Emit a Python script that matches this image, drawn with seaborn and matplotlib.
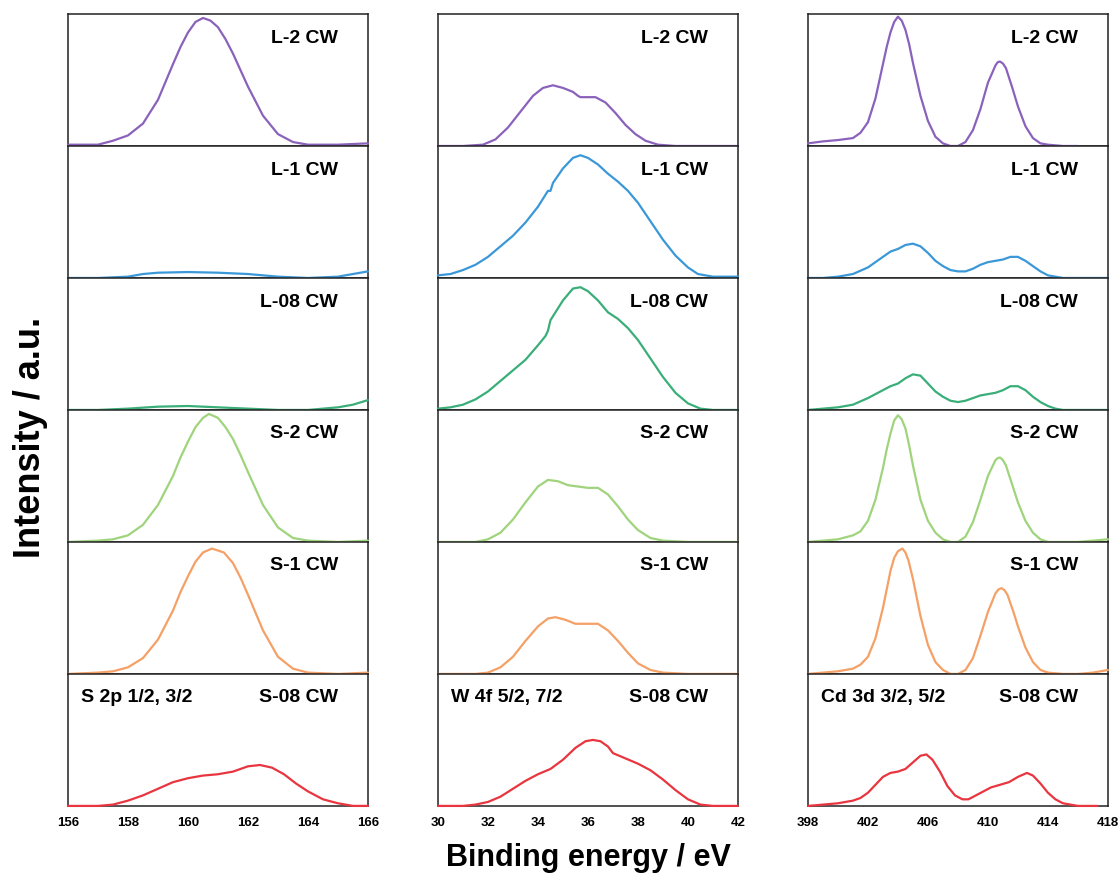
import matplotlib.pyplot as plt
import seaborn as sb

samples = ["L-2 CW", "L-1 CW", "L-08 CW", "S-2 CW", "S-1 CW", "S-08 CW"]
line_colors = ["#8b62bb", "#3b98d8", "#3aae78", "#9fd47c", "#f5a066", "#e8353f"]
regions = ["S 2p 1/2, 3/2", "W 4f 5/2, 7/2", "Cd 3d 3/2, 5/2"]
x_limits = [(156, 166), (30, 42), (398, 418)]
x_ticks = [[156, 158, 160, 162, 164, 166],
           [30, 32, 34, 36, 38, 40, 42],
           [398, 402, 406, 410, 414, 418]]

# S 2p
s_l2_x = [156, 157, 157.5, 158, 158.5, 159, 159.5, 159.75, 160, 160.25, 160.5, 160.75, 161, 161.25, 161.5, 162, 162.5, 163, 163.5, 164, 165, 166]
s_l2_y = [0.01, 0.01, 0.04, 0.08, 0.17, 0.35, 0.62, 0.75, 0.86, 0.94, 0.97, 0.95, 0.9, 0.81, 0.7, 0.45, 0.23, 0.09, 0.03, 0.01, 0.01, 0.02]
s_l1_x = [156, 157, 158, 158.5, 159, 160, 161, 162, 163, 164, 165, 165.5, 166]
s_l1_y = [0.0, 0.0, 0.01, 0.03, 0.04, 0.045, 0.04, 0.03, 0.01, 0.0, 0.01, 0.03, 0.05]
s_l08_x = [156, 157, 158, 159, 160, 161, 162, 163, 164, 165, 165.5, 166]
s_l08_y = [0.0, 0.0, 0.01, 0.025, 0.03, 0.02, 0.01, 0.0, 0.0, 0.02, 0.04, 0.075]
s_s2_x = [156, 157, 157.5, 158, 158.5, 159, 159.5, 159.75, 160, 160.25, 160.5, 160.7, 161, 161.25, 161.5, 161.75, 162, 162.5, 163, 163.5, 164, 165, 166]
s_s2_y = [0.0, 0.01, 0.02, 0.05, 0.13, 0.28, 0.5, 0.64, 0.76, 0.87, 0.94, 0.97, 0.94, 0.87, 0.78, 0.66, 0.53, 0.28, 0.11, 0.03, 0.01, 0.0, 0.01]
s_s1_x = [156, 157, 157.5, 158, 158.5, 159, 159.5, 159.75, 160, 160.25, 160.5, 160.8, 161.2, 161.5, 161.75, 162, 162.5, 163, 163.5, 164, 165, 166]
s_s1_y = [0.0, 0.01, 0.02, 0.05, 0.12, 0.26, 0.48, 0.62, 0.74, 0.85, 0.92, 0.95, 0.92, 0.84, 0.73, 0.6, 0.33, 0.13, 0.04, 0.01, 0.0, 0.01]
s_s08_x = [156, 157, 157.5, 158, 158.5, 159, 159.5, 160, 160.5, 161, 161.5, 162, 162.4, 162.8, 163.2, 163.6, 164, 164.5, 165, 165.5, 166]
s_s08_y = [0.0, 0.0, 0.01, 0.04, 0.08, 0.13, 0.18, 0.21, 0.23, 0.24, 0.26, 0.3, 0.31, 0.29, 0.24, 0.17, 0.11, 0.05, 0.02, 0.0, 0.0]

# W 4f
w_l2_x = [30, 31, 31.8, 32.3, 32.8, 33.3, 33.8, 34.2, 34.6, 35.0, 35.4, 35.6, 35.7, 36.0, 36.3, 36.7, 37.1, 37.5, 37.9, 38.3, 38.8, 39.5, 42]
w_l2_y = [0.0, 0.0, 0.01, 0.05, 0.14, 0.26, 0.38, 0.44, 0.46, 0.44, 0.41, 0.38, 0.37, 0.37, 0.37, 0.33, 0.25, 0.16, 0.09, 0.04, 0.01, 0.0, 0.0]
w_l1_x = [30, 30.5, 31, 31.5, 32, 32.5, 33, 33.5, 34, 34.4, 34.5, 34.6, 35, 35.4, 35.7, 36, 36.4, 36.8, 37.2, 37.6, 38, 38.5, 39, 39.5, 40, 40.4, 41, 42]
w_l1_y = [0.02, 0.03, 0.06, 0.1, 0.16, 0.24, 0.32, 0.42, 0.54, 0.66, 0.66, 0.72, 0.83, 0.91, 0.93, 0.91, 0.86, 0.79, 0.73, 0.66, 0.57, 0.43, 0.29, 0.17, 0.08, 0.03, 0.01, 0.01]
w_l08_x = [30, 30.5, 31, 31.5, 32, 32.5, 33, 33.5, 34, 34.3, 34.4, 34.5, 35, 35.4, 35.7, 36, 36.4, 36.8, 37.2, 37.6, 38, 38.5, 39, 39.5, 40, 40.5, 41, 42]
w_l08_y = [0.01, 0.02, 0.04, 0.08, 0.14, 0.22, 0.3, 0.38, 0.49, 0.56, 0.6, 0.68, 0.83, 0.92, 0.93, 0.9, 0.83, 0.74, 0.69, 0.62, 0.53, 0.39, 0.25, 0.13, 0.05, 0.01, 0.0, 0.0]
w_s2_x = [30, 31.5, 32, 32.5, 33, 33.5, 34, 34.4, 34.8, 35.2, 35.6, 36, 36.4, 36.8, 37.2, 37.6, 38, 38.5, 39, 40, 42]
w_s2_y = [0.0, 0.0, 0.02, 0.07, 0.17, 0.3, 0.42, 0.47, 0.46, 0.43, 0.42, 0.41, 0.41, 0.36, 0.27, 0.17, 0.09, 0.03, 0.01, 0.0, 0.0]
w_s1_x = [30, 31.5, 32, 32.5, 33, 33.5, 34, 34.4, 34.7, 35.1, 35.5, 36, 36.4, 36.8, 37.2, 37.6, 38, 38.5, 39, 40, 42]
w_s1_y = [0.0, 0.0, 0.01, 0.05, 0.13, 0.25, 0.36, 0.42, 0.43, 0.41, 0.38, 0.38, 0.38, 0.33, 0.25, 0.16, 0.08, 0.03, 0.01, 0.0, 0.0]
w_s08_x = [30, 31, 31.5, 32, 32.5, 33, 33.5, 34, 34.5, 35, 35.5, 35.9, 36.2, 36.5, 36.8, 37, 37.5, 38, 38.5, 39, 39.5, 40, 40.5, 41, 42]
w_s08_y = [0.0, 0.0, 0.01, 0.03, 0.07, 0.13, 0.19, 0.24, 0.28, 0.35, 0.44, 0.49, 0.5, 0.49, 0.45, 0.4, 0.36, 0.32, 0.27, 0.2, 0.12, 0.05, 0.01, 0.0, 0.0]

# Cd 3d
cd_l2_x = [398, 399, 400, 401, 401.5, 402, 402.5, 403, 403.25, 403.5, 403.75, 404, 404.25, 404.5, 404.75, 405, 405.5, 406, 406.5, 407, 407.5, 408, 408.5, 409, 409.5, 410, 410.5, 410.65, 410.8, 411.0, 411.2, 411.6, 412, 412.5, 413, 413.5, 414, 415, 416]
cd_l2_y = [0.02, 0.035, 0.045, 0.06, 0.1, 0.18, 0.36, 0.62, 0.75, 0.86, 0.94, 0.98, 0.95, 0.88, 0.77, 0.63, 0.38, 0.19, 0.07, 0.02, 0.0, 0.0, 0.03, 0.12, 0.28, 0.48, 0.61, 0.635, 0.64, 0.625, 0.59, 0.45, 0.3, 0.15, 0.06, 0.02, 0.01, 0.0, 0.0]
cd_l1_x = [398, 399, 400, 401, 402, 403, 403.5, 404, 404.5, 405, 405.5, 406, 406.5, 407, 407.5, 408, 408.5, 409, 409.5, 410, 410.5, 411, 411.5, 412, 412.5, 413, 413.5, 414, 414.5, 415, 418]
cd_l1_y = [0.0, 0.0, 0.01, 0.03, 0.08, 0.16, 0.2, 0.22, 0.25, 0.26, 0.24, 0.19, 0.13, 0.09, 0.06, 0.05, 0.05, 0.07, 0.1, 0.12, 0.13, 0.14, 0.16, 0.16, 0.13, 0.09, 0.05, 0.02, 0.01, 0.0, 0.0]
cd_l08_x = [398, 399, 400, 401, 402, 403, 403.5, 404, 404.5, 405, 405.5, 406, 406.5, 407, 407.5, 408, 408.5, 409, 409.5, 410, 410.5, 411, 411.5, 412, 412.5, 413, 413.5, 414, 414.5, 415, 418]
cd_l08_y = [0.0, 0.01, 0.02, 0.04, 0.09, 0.15, 0.18, 0.2, 0.24, 0.27, 0.26, 0.2, 0.14, 0.1, 0.07, 0.06, 0.07, 0.09, 0.11, 0.12, 0.13, 0.15, 0.18, 0.18, 0.15, 0.1, 0.06, 0.03, 0.01, 0.0, 0.0]
cd_s2_x = [398, 399, 400, 401, 401.5, 402, 402.5, 403, 403.25, 403.5, 403.75, 404, 404.25, 404.5, 404.75, 405, 405.5, 406, 406.5, 407, 407.5, 408, 408.5, 409, 409.5, 410, 410.5, 410.65, 410.8, 411.0, 411.2, 411.6, 412, 412.5, 413, 413.5, 414, 415, 416, 417, 418]
cd_s2_y = [0.0, 0.01, 0.02, 0.05, 0.08, 0.16, 0.32, 0.56, 0.7, 0.82, 0.92, 0.96, 0.93, 0.86, 0.73, 0.58, 0.32, 0.16, 0.07, 0.02, 0.0, 0.0, 0.04, 0.15, 0.32, 0.5, 0.62, 0.635, 0.64, 0.62, 0.58, 0.44, 0.3, 0.16, 0.07, 0.02, 0.0, 0.0, 0.0, 0.01, 0.02]
cd_s1_x = [398, 399, 400, 401, 401.5, 402, 402.5, 403, 403.5, 403.75, 404, 404.3, 404.5, 404.7, 405, 405.25, 405.5, 406, 406.5, 407, 407.5, 408, 408.5, 409, 409.5, 410, 410.5, 410.7, 410.9, 411.1, 411.3, 411.7, 412, 412.5, 413, 413.5, 414, 415, 416, 417, 418]
cd_s1_y = [0.0, 0.01, 0.02, 0.04, 0.07, 0.13, 0.27, 0.5, 0.78, 0.88, 0.93, 0.95, 0.92, 0.86, 0.72, 0.58, 0.44, 0.22, 0.09, 0.03, 0.0, 0.0, 0.03, 0.12, 0.29, 0.47, 0.61, 0.64, 0.65, 0.635, 0.6, 0.47, 0.36, 0.2, 0.09, 0.03, 0.01, 0.0, 0.0, 0.01, 0.03]
cd_s08_x = [398, 399, 400, 401, 401.5, 402, 402.5, 403, 403.5, 404, 404.5, 405, 405.5, 405.9, 406.3, 406.8, 407.3, 407.8, 408.3, 408.7, 409.2, 409.7, 410.2, 410.8, 411.4, 412, 412.6, 413, 413.5, 414, 414.5, 415, 416, 417.3]
cd_s08_y = [0.0, 0.01, 0.02, 0.04, 0.06, 0.1, 0.16, 0.22, 0.25, 0.26, 0.28, 0.33, 0.38, 0.39, 0.35, 0.26, 0.15, 0.08, 0.05, 0.05, 0.08, 0.11, 0.14, 0.16, 0.18, 0.22, 0.25, 0.23, 0.17, 0.1, 0.05, 0.02, 0.0, 0.0]

all_x = [[s_l2_x, s_l1_x, s_l08_x, s_s2_x, s_s1_x, s_s08_x],
         [w_l2_x, w_l1_x, w_l08_x, w_s2_x, w_s1_x, w_s08_x],
         [cd_l2_x, cd_l1_x, cd_l08_x, cd_s2_x, cd_s1_x, cd_s08_x]]
all_y = [[s_l2_y, s_l1_y, s_l08_y, s_s2_y, s_s1_y, s_s08_y],
         [w_l2_y, w_l1_y, w_l08_y, w_s2_y, w_s1_y, w_s08_y],
         [cd_l2_y, cd_l1_y, cd_l08_y, cd_s2_y, cd_s1_y, cd_s08_y]]

sb.set_style("white")
plt.rcParams['font.family'] = ['Liberation Sans', 'DejaVu Sans']
plt.rcParams['text.color'] = 'black'
plt.rcParams['xtick.color'] = 'black'

fig, axes = plt.subplots(6, 3, figsize=(11.18, 8.76), dpi=100, sharex='col')
plt.subplots_adjust(left=0.0608, right=0.991, top=0.984, bottom=0.08, hspace=0, wspace=0.2333)

for col in range(3):
    for row in range(6):
        ax = axes[row, col]
        sb.lineplot(x=all_x[col][row], y=all_y[col][row], ax=ax, color=line_colors[row],
                    linewidth=1.6, estimator=None, zorder=3, clip_on=False)
        ax.set_xlim(x_limits[col])
        ax.set_ylim(0, 1.0)
        ax.set_yticks([])
        ax.set_xlabel("")
        ax.set_ylabel("")
        for sp in ax.spines.values():
            sp.set_linewidth(1.1)
            sp.set_color("#222222")
        ax.text(0.9, 0.818, samples[row], transform=ax.transAxes, ha="right", va="center",
                fontsize=14, fontweight="bold")
        if row < 5:
            ax.tick_params(axis="x", bottom=False, labelbottom=False)
        else:
            ax.set_xticks(x_ticks[col])
            ax.tick_params(axis="x", direction="out", length=4, width=1.1, pad=4, labelsize=9.5)
            for lab in ax.get_xticklabels():
                lab.set_fontweight("bold")
            ax.text(0.045, 0.818, regions[col], transform=ax.transAxes, ha="left", va="center",
                    fontsize=14, fontweight="bold")

fig.text(0.027, 1 - 437 / 876, "Intensity / a.u.", rotation=90, ha="center", va="center",
         fontsize=26, fontweight="bold")
fig.text(588 / 1118, 1 - 858 / 876, "Binding energy / eV", ha="center", va="center",
         fontsize=22, fontweight="bold")

fig.savefig("out.png", dpi=100)
